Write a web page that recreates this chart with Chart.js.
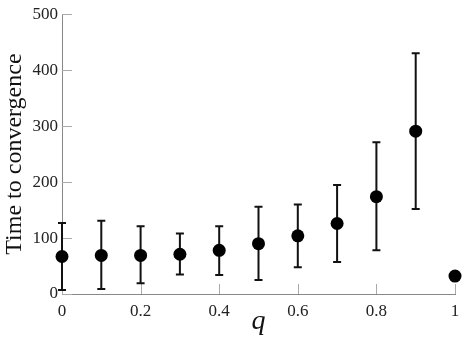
<!DOCTYPE html>
<html>
<head>
<meta charset="utf-8">
<script src="https://cdn.jsdelivr.net/npm/chart.js@4/dist/chart.umd.min.js"></script>
<style>
  html, body { margin: 0; padding: 0; background: #fff; }
  #wrap { width: 463px; height: 342px; }
</style>
</head>
<body>
<div id="wrap"><canvas id="convChart"></canvas></div>
<script>
const qValues = [0, 0.1, 0.2, 0.3, 0.4, 0.5, 0.6, 0.7, 0.8, 0.9, 1];
const meanTime = [67, 69, 69, 71, 78, 90, 104, 126, 174, 291, 32];
const lowTime = [7, 9, 19, 35, 34, 25, 48, 57, 78, 152, null];
const highTime = [127, 131, 121, 108, 121, 156, 160, 195, 271, 430, null];
const xTicks = [0, 0.2, 0.4, 0.6, 0.8, 1];
const yTicks = [0, 100, 200, 300, 400, 500];

// error bars + inward tick marks, drawn from the chart's own scales
const errorBars = {
  id: 'errorBars',
  beforeDatasetsDraw(chart) {
    const c = chart.ctx, xs = chart.scales.x, ys = chart.scales.y;
    c.save();
    c.strokeStyle = '#aaa';
    c.lineWidth = 1;
    xTicks.forEach(v => {
      const px = Math.round(xs.getPixelForValue(v)) + 0.5;
      c.beginPath();
      c.moveTo(px, ys.bottom);
      c.lineTo(px, ys.bottom - 10);
      c.stroke();
    });
    yTicks.forEach(v => {
      const py = Math.round(ys.getPixelForValue(v)) + 0.5;
      c.beginPath();
      c.moveTo(xs.left, py);
      c.lineTo(xs.left + 10, py);
      c.stroke();
    });
    c.strokeStyle = '#111';
    c.lineWidth = 2;
    qValues.forEach((q, i) => {
      if (lowTime[i] == null) return;
      const px = xs.getPixelForValue(q);
      const top = ys.getPixelForValue(highTime[i]);
      const bot = ys.getPixelForValue(lowTime[i]);
      c.beginPath();
      c.moveTo(px, top); c.lineTo(px, bot);
      c.moveTo(px - 4, top); c.lineTo(px + 4, top);
      c.moveTo(px - 4, bot); c.lineTo(px + 4, bot);
      c.stroke();
    });
    c.restore();
  }
};

const serif = "'Liberation Serif', 'Times New Roman', serif";

new Chart(document.getElementById('convChart').getContext('2d'), {
  type: 'scatter',
  data: {
    datasets: [{
      data: qValues.map((q, i) => ({ x: q, y: meanTime[i] })),
      backgroundColor: '#000',
      borderColor: '#000',
      borderWidth: 0,
      pointRadius: 6.5,
      pointHoverRadius: 6.5,
      clip: false
    }]
  },
  options: {
    responsive: true,
    maintainAspectRatio: false,
    animation: false,
    layout: { padding: { top: 8, right: 8, left: 0, bottom: 0 } },
    plugins: { legend: { display: false }, tooltip: { enabled: false } },
    scales: {
      x: {
        type: 'linear',
        min: 0, max: 1,
        afterBuildTicks: s => { s.ticks = xTicks.map(v => ({ value: v })); },
        afterFit: s => { s.height = 48; s.paddingLeft = 0; s.paddingRight = 0; },
        grid: { drawOnChartArea: false, drawTicks: false },
        border: { color: '#888', width: 1 },
        ticks: { color: '#222', font: { family: serif, size: 17 }, padding: 7,
                 callback: v => String(v) },
        title: { display: true, text: 'q', color: '#111', padding: { top: 0 },
                 font: { family: serif, size: 28, style: 'italic' } }
      },
      y: {
        min: 0, max: 500,
        afterBuildTicks: s => { s.ticks = yTicks.map(v => ({ value: v })); },
        afterFit: s => { s.width = 62; },
        grid: { drawOnChartArea: false, drawTicks: false },
        border: { color: '#888', width: 1 },
        ticks: { color: '#222', font: { family: serif, size: 17 }, padding: 4 },
        title: { display: true, text: 'Time to convergence', color: '#111', padding: 0,
                 font: { family: serif, size: 24 } }
      }
    }
  },
  plugins: [errorBars]
});
</script>
</body>
</html>
